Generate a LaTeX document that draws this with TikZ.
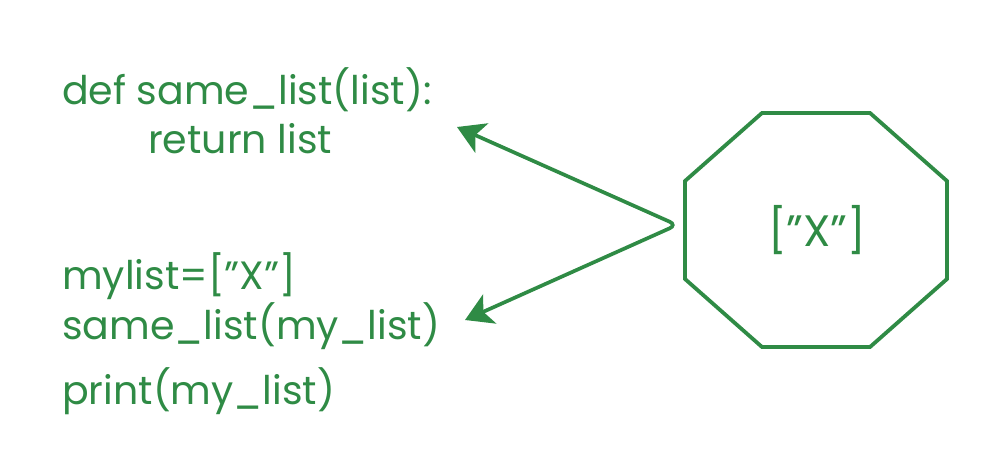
\documentclass[tikz,border=0pt]{standalone}
\usepackage{fontspec}
\setmainfont{Poppins}
\usetikzlibrary{arrows.meta}
\definecolor{gfg}{HTML}{2F8B45}
\tikzset{
  code/.style={anchor=base west, inner sep=0pt, text=gfg, font=\fontsize{39.5}{46}\selectfont},
  arr/.style={draw=gfg, line width=3.7pt, rounded corners=8pt, {Stealth[length=27pt,width=32pt,inset=7pt]}-{Stealth[length=27pt,width=32pt,inset=7pt]}}
}
\begin{document}
\begin{tikzpicture}[x=1pt,y=-1pt]
\useasboundingbox (0,0) rectangle (1000,460);
\node[code] (l1) at (62,104) {def same\_list(list):};
\node[code] (l2) at (148,153) {return list};
\node[code] (l3) at (62,289) {mylist=[”X”]};
\node[code] (l4) at (62,339) {same\_list(my\_list)};
\node[code] (l5) at (62,404) {print(my\_list)};
\draw[gfg, line width=3.8pt, line join=miter] (762,113) -- (870,113) -- (947,181) -- (947,279) -- (870,347) -- (762,347) -- (685,279) -- (685,181) -- cycle;
\node[text=gfg, inner sep=0pt, font=\fontsize{44}{50}\selectfont] (val) at (817,230) {[”X”]};
\coordinate (t1) at (457,127);
\coordinate (apex) at (677,225);
\coordinate (t2) at (465,320);
\draw[arr] (t1) -- (apex) -- (t2);
\end{tikzpicture}
\end{document}
